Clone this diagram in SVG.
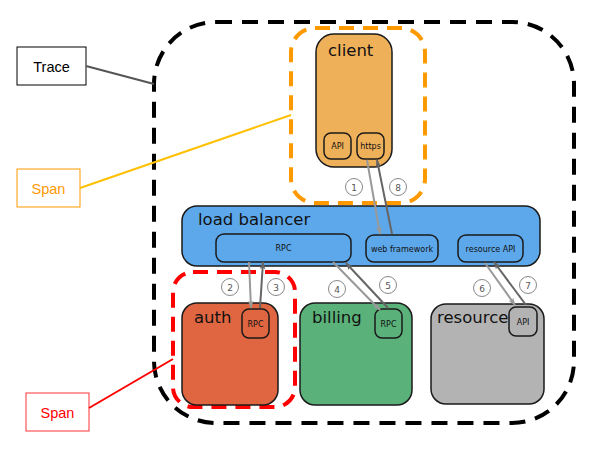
<svg xmlns="http://www.w3.org/2000/svg" width="598" height="463" viewBox="0 0 598 463">
<style>
.node{stroke:#1a1a1a;stroke-width:1.5}
.sub{fill:none;stroke:#1a1a1a;stroke-width:1.5}
.title{font-family:"DejaVu Sans",sans-serif;font-size:16.5px;fill:#111}
.lbl{font-family:"DejaVu Sans",sans-serif;font-size:8px;fill:#111;text-anchor:middle}
.num circle{fill:#fff;stroke:#888;stroke-width:1}
.num text{font-family:"DejaVu Sans",sans-serif;font-size:9px;fill:#555;text-anchor:middle}
.ca{stroke:#999;stroke-width:2;fill:none;marker-end:url(#al)}
.cb{stroke:#666;stroke-width:2;fill:none;marker-end:url(#ad)}
.legend{font-family:"Liberation Sans",Arial,sans-serif;font-size:14.5px;text-anchor:middle}
</style>
<defs>
<marker id="al" viewBox="0 0 10 10" refX="9" refY="5" markerWidth="8" markerHeight="8" orient="auto" markerUnits="userSpaceOnUse">
<path d="M0,1.5 L10,5 L0,8.5 L2.5,5 z" fill="#999"/>
</marker>
<marker id="ad" viewBox="0 0 10 10" refX="9" refY="5" markerWidth="8" markerHeight="8" orient="auto" markerUnits="userSpaceOnUse">
<path d="M0,1.5 L10,5 L0,8.5 L2.5,5 z" fill="#666"/>
</marker>
</defs>
<rect width="598" height="463" fill="#fff"/>

<g id="trace-boundary">
<rect x="154" y="22" width="420" height="401" rx="62" ry="62" fill="none" stroke="#000" stroke-width="4" stroke-dasharray="16,10"/>
</g>
<g id="span-client">
<rect x="291" y="28" width="134" height="175" rx="24" ry="24" fill="none" stroke="#FF9900" stroke-width="4" stroke-dasharray="15,9"/>
</g>
<g id="span-auth">
<rect x="173" y="272" width="122" height="135" rx="20" ry="20" fill="none" stroke="#FF0000" stroke-width="4" stroke-dasharray="15,9"/>
</g>

<g id="client">
<rect class="node" x="316" y="34" width="76" height="133" rx="18" fill="#EFB05A"/>
<text class="title" x="328" y="56">client</text>
<rect class="sub" x="324" y="133" width="27" height="26" rx="7"/>
<text class="lbl" x="337.5" y="149">API</text>
<rect class="sub" x="357" y="133" width="27" height="26" rx="7"/>
<text class="lbl" x="370.5" y="149">https</text>
</g>

<g id="load-balancer">
<rect class="node" x="182" y="206" width="358" height="60" rx="15" fill="#5DA8EA"/>
<text class="title" x="198" y="225">load balancer</text>
<rect class="sub" x="216" y="234" width="135" height="28" rx="8"/>
<text class="lbl" x="283.5" y="251">RPC</text>
<rect class="sub" x="366" y="235" width="72" height="27" rx="8"/>
<text class="lbl" x="402" y="251.5">web framework</text>
<rect class="sub" x="458" y="235" width="65" height="27" rx="8"/>
<text class="lbl" x="490.5" y="251.5">resource API</text>
</g>

<g id="auth">
<rect class="node" x="182" y="303" width="96" height="102" rx="15" fill="#DF6640"/>
<text class="title" x="194" y="323">auth</text>
<rect class="sub" x="242" y="309" width="27" height="29" rx="7"/>
<text class="lbl" x="255.5" y="326.5">RPC</text>
</g>

<g id="billing">
<rect class="node" x="300" y="303" width="112" height="102" rx="15" fill="#5BB17A"/>
<text class="title" x="312" y="323">billing</text>
<rect class="sub" x="375" y="309" width="27" height="29" rx="7"/>
<text class="lbl" x="388.5" y="326.5">RPC</text>
</g>

<g id="resource">
<rect class="node" x="431" y="304" width="113" height="100" rx="15" fill="#B3B3B3"/>
<text class="title" x="437" y="323">resource</text>
<rect class="sub" x="509" y="307" width="28" height="29" rx="7"/>
<text class="lbl" x="523" y="324.5">API</text>
</g>

<g id="legend-trace">
<rect x="17" y="47" width="69" height="38" fill="#fff" stroke="#000" stroke-width="1"/>
<text class="legend" x="51.5" y="71.5" fill="#000">Trace</text>
</g>
<g id="legend-span-client">
<rect x="17" y="169" width="63" height="38" fill="#fff" stroke="#FF9900" stroke-width="1"/>
<text class="legend" x="48.5" y="193.5" fill="#FF9900">Span</text>
</g>
<g id="legend-span-auth">
<rect x="26" y="393" width="63" height="38" fill="#fff" stroke="#FF3333" stroke-width="1"/>
<text class="legend" x="57.5" y="417.5" fill="#FF0000">Span</text>
</g>

<g id="connectors">
<line x1="86" y1="66" x2="154" y2="84" stroke="#555" stroke-width="2"/>
<line x1="80" y1="188" x2="291" y2="115" stroke="#FFC000" stroke-width="2"/>
<line x1="89" y1="408" x2="173" y2="359" stroke="#FF0000" stroke-width="2"/>

<line class="ca" x1="367" y1="160" x2="380" y2="234"/>
<line class="cb" x1="392" y1="234" x2="377" y2="160"/>
<line class="ca" x1="249" y1="262" x2="251" y2="308"/>
<line class="cb" x1="260" y1="308" x2="263" y2="262"/>
<line class="ca" x1="333" y1="262" x2="380" y2="310"/>
<line class="cb" x1="388" y1="308" x2="346" y2="263"/>
<line class="ca" x1="485" y1="263" x2="515" y2="305"/>
<line class="cb" x1="526" y1="305" x2="494" y2="262"/>
</g>

<g id="numbers">
<g class="num"><circle cx="354" cy="187" r="8.5"/><text x="354" y="190.5">1</text></g>
<g class="num"><circle cx="398" cy="187" r="8.5"/><text x="398" y="190.5">8</text></g>
<g class="num"><circle cx="230" cy="287" r="8.5"/><text x="230" y="290.5">2</text></g>
<g class="num"><circle cx="276" cy="287" r="8.5"/><text x="276" y="290.5">3</text></g>
<g class="num"><circle cx="337" cy="289" r="8.5"/><text x="337" y="292.5">4</text></g>
<g class="num"><circle cx="388" cy="285" r="8.5"/><text x="388" y="288.5">5</text></g>
<g class="num"><circle cx="482" cy="288" r="8.5"/><text x="482" y="291.5">6</text></g>
<g class="num"><circle cx="528" cy="285" r="8.5"/><text x="528" y="288.5">7</text></g>
</g>
</svg>
